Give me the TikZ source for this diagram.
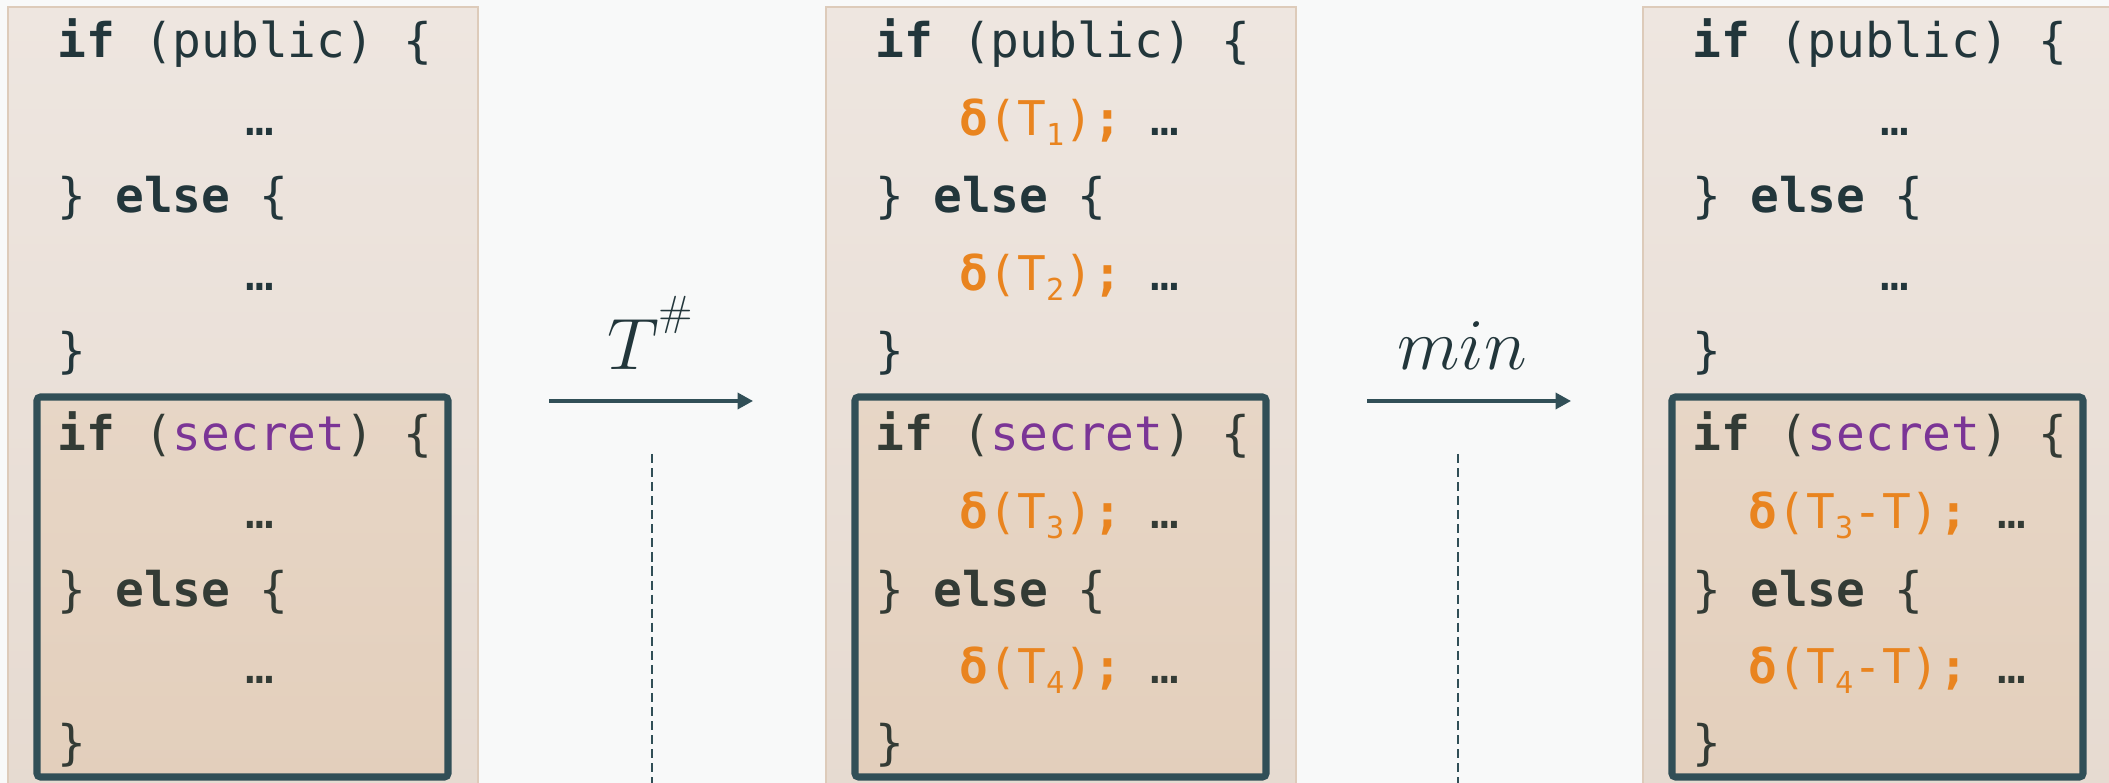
\documentclass[tikz,border=0pt]{standalone}
\usepackage{fontspec}
\setmonofont{DejaVu Sans Mono}
\usetikzlibrary{arrows.meta}

\definecolor{bgcol}{HTML}{F8F9F9}
\definecolor{ink}{HTML}{22363B}
\definecolor{inksec}{HTML}{333B35}
\definecolor{boxline}{HTML}{314F57}
\definecolor{secretcol}{HTML}{7B3596}
\definecolor{costcol}{HTML}{E9841F}
\definecolor{pantop}{HTML}{EEE6E0}
\definecolor{panbot}{HTML}{E6DAD0}
\definecolor{panline}{HTML}{DDCBBA}
\definecolor{sectop}{HTML}{E7D6C6}
\definecolor{secbot}{HTML}{E3CFBC}

\newcommand{\codefont}{\ttfamily\fontsize{13.6}{16}\selectfont\frenchspacing}
\newcommand{\tsub}[1]{\raisebox{-2.8pt}{\fontsize{8.6}{9}\selectfont #1}}

\tikzset{
    panel/.style={top color=pantop, bottom color=panbot, draw=panline, line width=0.5pt},
    secretbox/.style={top color=sectop, bottom color=secbot, draw=boxline, line width=2pt, rounded corners=1pt},
    code/.style={anchor=base west, inner sep=0pt, font=\codefont, text=ink},
    dots/.style={anchor=base, inner sep=0pt, font=\codefont, text=ink},
    opname/.style={anchor=base, inner sep=0pt, font=\fontsize{20.74}{25}\selectfont, text=ink},
    flow/.style={-{Triangle[length=4.4pt,width=4.6pt]}, line width=0.9pt, draw=boxline},
    divider/.style={draw=boxline, line width=0.6pt, dash pattern=on 2.6pt off 1.4pt},
}

\begin{document}
\begin{tikzpicture}
    \useasboundingbox [fill=bgcol] (0,0) rectangle (21.09,-7.83);

    \foreach \x/\n in {0.08/a,8.26/b,16.43/c} {
        \shadedraw [panel] (\x,-0.07) rectangle (\x+4.70,-8.2);
        \draw [secretbox] (\x+0.29,-3.97) rectangle (\x+4.40,-7.77);
        \node [code] (ifpub\n) at (\x+0.49,-0.58)%
            {\textbf{if} (public) \{};
        \node [code] (elsepub\n) at (\x+0.49,-2.13)%
            {\} \textbf{else} \{};
        \node [code] (endpub\n) at (\x+0.49,-3.68) {\}};
        \node [code,text=inksec] (ifsec\n) at (\x+0.49,-4.51)%
            {\textbf{if} (\textcolor{secretcol}{secret}) \{};
        \node [code,text=inksec] (elsesec\n) at (\x+0.49,-6.07)%
            {\} \textbf{else} \{};
        \node [code,text=inksec] (endsec\n) at (\x+0.49,-7.60) {\}};
    }

    \foreach \x/\n in {0.08/a,16.43/c} {
        \node [dots] (dotsif\n) at (\x+2.52,-1.36) {…};
        \node [dots] (dotselse\n) at (\x+2.52,-2.91) {…};
    }
    \node [dots,text=inksec] (dotssecif) at (2.60,-5.29) {…};
    \node [dots,text=inksec] (dotssecelse) at (2.60,-6.84) {…};

    \node [code] (costone) at (9.59,-1.36)%
        {\textcolor{costcol}{\textbf{δ}(T\tsub{1})\textbf{;}} …};
    \node [code] (costtwo) at (9.59,-2.91)%
        {\textcolor{costcol}{\textbf{δ}(T\tsub{2})\textbf{;}} …};
    \node [code,text=inksec] (costthree) at (9.59,-5.29)%
        {\textcolor{costcol}{\textbf{δ}(T\tsub{3})\textbf{;}} …};
    \node [code,text=inksec] (costfour) at (9.59,-6.84)%
        {\textcolor{costcol}{\textbf{δ}(T\tsub{4})\textbf{;}} …};

    \node [code,text=inksec] (minthree) at (17.48,-5.29)%
        {\textcolor{costcol}{\textbf{δ}(T\tsub{3}-T)\textbf{;}} …};
    \node [code,text=inksec] (minfour) at (17.48,-6.84)%
        {\textcolor{costcol}{\textbf{δ}(T\tsub{4}-T)\textbf{;}} …};

    \coordinate (transfrom) at (5.49,-4.01);
    \coordinate (transto) at (7.53,-4.01);
    \draw [flow] (transfrom) -- (transto);
    \node [opname] (translabel) at (6.51,-3.70)%
        {$T^{\raisebox{5pt}{$\scriptscriptstyle\#$}}$};

    \coordinate (minfrom) at (13.67,-4.01);
    \coordinate (minto) at (15.71,-4.01);
    \draw [flow] (minfrom) -- (minto);
    \node [opname] (minlabel) at (14.62,-3.70) {$min$};

    \coordinate (cuttop) at (6.52,-4.54);
    \coordinate (cutbottom) at (6.52,-7.90);
    \draw [divider] (cuttop) -- (cutbottom);
    \coordinate (mincuttop) at (14.58,-4.54);
    \coordinate (mincutbottom) at (14.58,-7.90);
    \draw [divider] (mincuttop) -- (mincutbottom);
\end{tikzpicture}
\end{document}
